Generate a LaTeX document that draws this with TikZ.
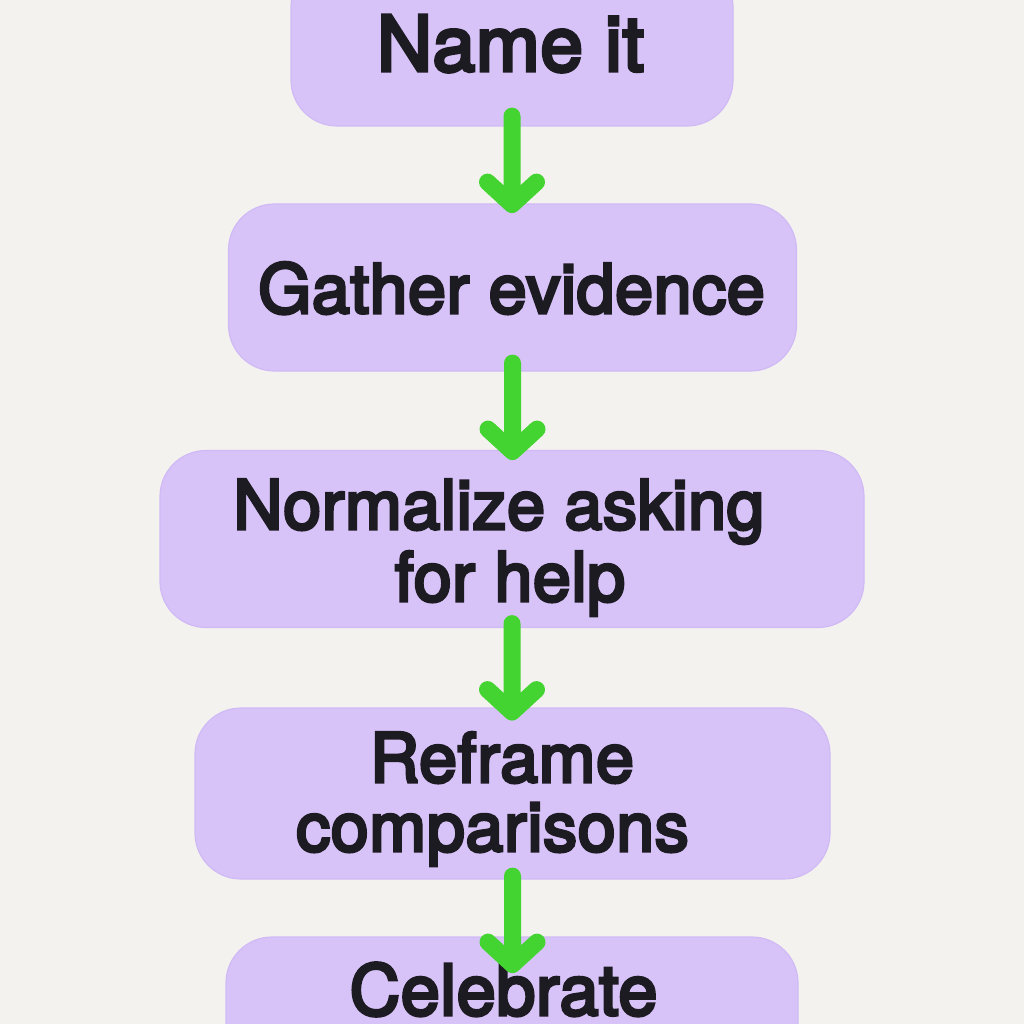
\documentclass[tikz,border=0pt]{standalone}
\usepackage{fontspec}
\setmainfont{TeX Gyre Heros}[FakeBold=4.5,LetterSpace=1]
\definecolor{bgc}{HTML}{F4F2EF}
\definecolor{boxc}{HTML}{D8C3F8}
\definecolor{boxedge}{HTML}{D0BAF5}
\definecolor{arrc}{HTML}{44D431}
\definecolor{txtc}{HTML}{1D1B22}
\tikzset{
  stepbox/.style={draw=boxedge, line width=1.2pt, fill=boxc, rounded corners=46pt, inner sep=0pt},
  lbl/.style={anchor=base, text=txtc, inner sep=0pt, font=\fontsize{68pt}{68pt}\selectfont},
  arrowline/.style={draw=arrc, line width=17pt, line cap=round, line join=round}
}
\begin{document}
\begin{tikzpicture}[x=1pt,y=-1pt]
\useasboundingbox (0,0) rectangle (1024,1024);
\clip (0,0) rectangle (1024,1024);
\fill[bgc] (0,0) rectangle (1024,1024);
% boxes
\node[stepbox, minimum width=442pt, minimum height=165pt] (b1) at (512,43.5) {};
\node[stepbox, minimum width=568pt, minimum height=167pt] (b2) at (512.5,287.5) {};
\node[stepbox, minimum width=704pt, minimum height=177pt] (b3) at (512,539) {};
\node[stepbox, minimum width=635pt, minimum height=171pt] (b4) at (512.5,793.5) {};
\node[stepbox, minimum width=572pt, minimum height=170pt] (b5) at (512,1022) {};
% labels
\node[lbl, font=\fontsize{76.5pt}{76.5pt}\selectfont] (t1) at (510.5,71) {Name it};
\node[lbl] (t2) at (511.5,313) {Gather evidence};
\node[lbl] (t3a) at (499,529) {Normalize asking};
\node[lbl] (t3b) at (510,601) {for help};
\node[lbl] (t4a) at (502,782) {Reframe};
\node[lbl] (t4b) at (492.5,851) {comparisons};
\node[lbl, font=\fontsize{70pt}{70pt}\selectfont] (t5) at (503.5,1015) {Celebrate};
% arrows
\draw[arrowline] ([yshift=10.5pt]b1.south) -- ++(0,88.5) ++(-24.5,-22.5) -- ++(24.5,22.5) -- ++(24.5,-22.5);
\draw[arrowline] ([yshift=8.5pt]b2.south) -- ++(0,88.5) ++(-24.5,-22.5) -- ++(24.5,22.5) -- ++(24.5,-22.5);
\draw[arrowline] ([yshift=4.5pt]b3.south) -- ++(0,88.5) ++(-24.5,-22.5) -- ++(24.5,22.5) -- ++(24.5,-22.5);
\draw[arrowline] ([yshift=3.5pt]b4.south) -- ++(0,88.5) ++(-24.5,-22.5) -- ++(24.5,22.5) -- ++(24.5,-22.5);
\end{tikzpicture}
\end{document}
